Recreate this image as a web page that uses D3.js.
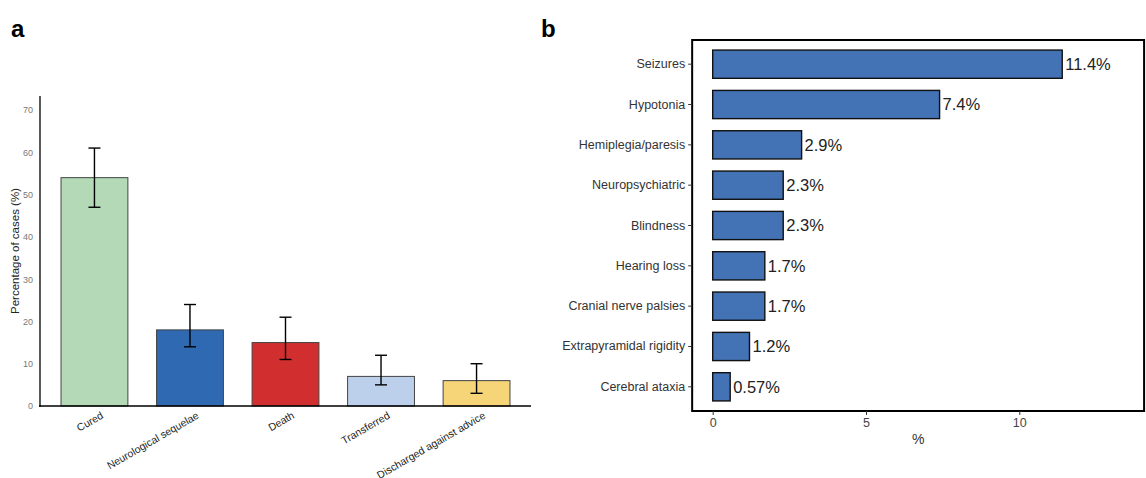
<!DOCTYPE html>
<html>
<head>
<meta charset="utf-8">
<script src="https://cdn.jsdelivr.net/npm/d3@7"></script>
<style>
  body { margin: 0; background: #fff; }
  svg { font-family: "Liberation Sans", Arial, Helvetica, sans-serif; }
</style>
</head>
<body>
<div id="chart"></div>
<script>
// Panel a: outcome of cases
var outcomes = ["Cured", "Neurological sequelae", "Death", "Transferred", "Discharged against advice"];
var outcomePct = [54, 18, 15, 7, 6];
var outcomeLow = [47, 14, 11, 5, 3];
var outcomeHigh = [61, 24, 21, 12, 10];
var outcomeColors = ["#b3d9b6", "#2e69b2", "#d12f2f", "#bccfeb", "#f5d577"];
var yTicksA = [0, 10, 20, 30, 40, 50, 60, 70];

// Panel b: neurological sequelae
var sequelae = ["Seizures", "Hypotonia", "Hemiplegia/paresis", "Neuropsychiatric", "Blindness",
                "Hearing loss", "Cranial nerve palsies", "Extrapyramidal rigidity", "Cerebral ataxia"];
var sequelaePct = [11.4, 7.4, 2.9, 2.3, 2.3, 1.7, 1.7, 1.2, 0.57];
var sequelaeLabels = ["11.4%", "7.4%", "2.9%", "2.3%", "2.3%", "1.7%", "1.7%", "1.2%", "0.57%"];
var xTicksB = [0, 5, 10];

var width = 1146, height = 478;

var svg = d3.select("#chart").append("svg")
    .attr("width", width)
    .attr("height", height);

// panel letters
svg.append("text").attr("x", 11).attr("y", 37)
    .style("font-size", "24px").style("font-weight", "bold").text("a");
svg.append("text").attr("x", 541).attr("y", 37)
    .style("font-size", "24px").style("font-weight", "bold").text("b");

// ---------- panel a ----------
var xA = d3.scaleBand()
    .domain(outcomes)
    .range([40, 531])
    .paddingInner(0.3)
    .paddingOuter(0.22);

var yA = d3.scaleLinear()
    .domain([0, 70])
    .range([406, 110]);

var gA = svg.append("g");

gA.selectAll("rect.bar")
    .data(outcomes)
    .enter().append("rect")
    .attr("class", "bar")
    .attr("x", function (d) { return xA(d); })
    .attr("width", xA.bandwidth())
    .attr("y", function (d, i) { return yA(outcomePct[i]); })
    .attr("height", function (d, i) { return yA(0) - yA(outcomePct[i]); })
    .style("fill", function (d, i) { return outcomeColors[i]; })
    .style("stroke", "#444")
    .style("stroke-width", 1);

// error bars
var cap = 6;
var err = gA.selectAll("g.err")
    .data(outcomes)
    .enter().append("g")
    .attr("class", "err")
    .style("stroke", "#000")
    .style("stroke-width", 1.4);
err.append("line")
    .attr("x1", function (d) { return xA(d) + xA.bandwidth() / 2; })
    .attr("x2", function (d) { return xA(d) + xA.bandwidth() / 2; })
    .attr("y1", function (d, i) { return yA(outcomeLow[i]); })
    .attr("y2", function (d, i) { return yA(outcomeHigh[i]); });
err.append("line")
    .attr("x1", function (d) { return xA(d) + xA.bandwidth() / 2 - cap; })
    .attr("x2", function (d) { return xA(d) + xA.bandwidth() / 2 + cap; })
    .attr("y1", function (d, i) { return yA(outcomeLow[i]); })
    .attr("y2", function (d, i) { return yA(outcomeLow[i]); });
err.append("line")
    .attr("x1", function (d) { return xA(d) + xA.bandwidth() / 2 - cap; })
    .attr("x2", function (d) { return xA(d) + xA.bandwidth() / 2 + cap; })
    .attr("y1", function (d, i) { return yA(outcomeHigh[i]); })
    .attr("y2", function (d, i) { return yA(outcomeHigh[i]); });

// y axis a
var yAxisA = gA.append("g")
    .attr("transform", "translate(40,0)")
    .call(d3.axisLeft(yA).tickValues(yTicksA).tickSize(0).tickPadding(7));
yAxisA.select(".domain").attr("d", "M0," + (yA(0) + 1) + "V96").style("stroke", "#000").style("stroke-width", 1.3);
yAxisA.selectAll("text").style("font-size", "9px").style("fill", "#777").style("font-family", "inherit");

// x axis a
var xAxisA = gA.append("g")
    .attr("transform", "translate(0,406)")
    .call(d3.axisBottom(xA).tickSize(0).tickPadding(6));
xAxisA.select(".domain").attr("d", "M39,0H531").style("stroke", "#000").style("stroke-width", 1.3);
xAxisA.selectAll("text")
    .style("font-size", "10.5px")
    .style("fill", "#222")
    .style("font-family", "inherit")
    .style("text-anchor", "end")
    .attr("dy", "0.7em")
    .attr("transform", "translate(3,0) rotate(-30)");

gA.append("text")
    .attr("transform", "translate(19,251) rotate(-90)")
    .style("text-anchor", "middle")
    .style("font-size", "11.5px")
    .style("fill", "#222")
    .text("Percentage of cases (%)");

// ---------- panel b ----------
var xB = d3.scaleLinear()
    .domain([0, 10])
    .range([712.7, 1019.3]);

var yB = d3.scaleBand()
    .domain(sequelae)
    .range([40, 411])
    .paddingInner(0.3)
    .paddingOuter(0.25);

var gB = svg.append("g");

gB.append("rect")
    .attr("x", xB(-0.67))
    .attr("y", 40)
    .attr("width", xB(14.07) - xB(-0.67))
    .attr("height", 371)
    .style("fill", "none")
    .style("stroke", "#000")
    .style("stroke-width", 2);

gB.selectAll("rect.bar")
    .data(sequelae)
    .enter().append("rect")
    .attr("class", "bar")
    .attr("x", xB(0))
    .attr("y", function (d) { return yB(d); })
    .attr("width", function (d, i) { return xB(sequelaePct[i]) - xB(0); })
    .attr("height", yB.bandwidth())
    .style("fill", "#4372b5")
    .style("stroke", "#111")
    .style("stroke-width", 1.4);

gB.selectAll("text.val")
    .data(sequelae)
    .enter().append("text")
    .attr("class", "val")
    .attr("x", function (d, i) { return xB(sequelaePct[i]) + 3; })
    .attr("y", function (d) { return yB(d) + yB.bandwidth() / 2; })
    .attr("dy", "0.36em")
    .style("font-size", "16.5px")
    .style("fill", "#222")
    .text(function (d, i) { return sequelaeLabels[i]; });

var yAxisB = gB.append("g")
    .attr("transform", "translate(" + xB(-0.67) + ",0)")
    .call(d3.axisLeft(yB).tickSize(4).tickPadding(3));
yAxisB.select(".domain").remove();
yAxisB.selectAll("line").style("stroke", "#333");
yAxisB.selectAll("text").style("font-size", "12.5px").style("fill", "#333").style("font-family", "inherit");

var xAxisB = gB.append("g")
    .attr("transform", "translate(0,411)")
    .call(d3.axisBottom(xB).tickValues(xTicksB).tickSize(4).tickPadding(3));
xAxisB.select(".domain").remove();
xAxisB.selectAll("line").style("stroke", "#333");
xAxisB.selectAll("text").style("font-size", "12.5px").style("fill", "#444").style("font-family", "inherit");

gB.append("text")
    .attr("x", (xB(-0.67) + xB(14.07)) / 2)
    .attr("y", 444)
    .style("text-anchor", "middle")
    .style("font-size", "14px")
    .style("fill", "#333")
    .text("%");
</script>
</body>
</html>
